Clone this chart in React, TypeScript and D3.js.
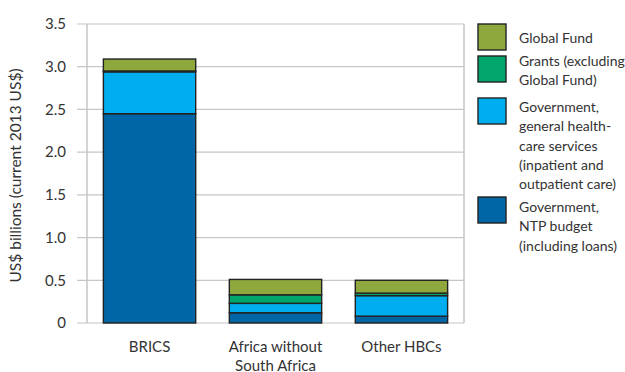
import React from "react";
import * as d3 from "d3";

const categories = ["BRICS", "Africa without\nSouth Africa", "Other HBCs"];
const seriesNames = ["ntp", "general", "grants", "globalFund"];
const ntpBudget = [2.45, 0.12, 0.08];
const generalHealth = [0.49, 0.11, 0.24];
const grants = [0.01, 0.1, 0.03];
const globalFund = [0.14, 0.18, 0.15];
const yTicks = [0, 0.5, 1.0, 1.5, 2.0, 2.5, 3.0, 3.5];
const colors = ["#0066a6", "#00adef", "#00a66b", "#8fa83e"];
const legendItems = [
  { color: "#8fa83e", lines: ["Global Fund"] },
  { color: "#00a66b", lines: ["Grants (excluding", "Global Fund)"] },
  { color: "#00adef", lines: ["Government,", "general health-", "care services", "(inpatient and", "outpatient care)"] },
  { color: "#0066a6", lines: ["Government,", "NTP budget", "(including loans)"] },
];

const FONT = "Lato, 'Open Sans', sans-serif";

export default function App() {
  const left = 87, right = 464, top = 24, bottom = 323;
  const x = d3.scaleBand().domain(categories).range([left, right]).paddingInner(0.267).paddingOuter(0.13);
  const y = d3.scaleLinear().domain([0, 3.5]).range([bottom, top]);
  const table = categories.map((c, i) => ({
    cat: c,
    ntp: ntpBudget[i],
    general: generalHealth[i],
    grants: grants[i],
    globalFund: globalFund[i],
  }));
  const stacked = d3.stack<any>().keys(seriesNames)(table);
  const legendY = [24, 56, 98, 197];
  const legendTextY = [38, 61, 107, 207];
  return (
    <svg width={625} height={372} style={{ display: "block", position: "absolute", left: 0, top: 0 }}>
      <rect width={625} height={372} fill="#fff" />
      {yTicks.map((t) => (
        <g key={t}>
          <line x1={77} x2={right} y1={y(t)} y2={y(t)} stroke="#c6c6c6" strokeWidth={1.2} />
          <text x={66} y={y(t)} dy="0.35em" textAnchor="end" fontFamily={FONT} fontSize={15} fill="#333">
            {t === 0 ? "0" : t.toFixed(1)}
          </text>
        </g>
      ))}
      <line x1={left} x2={left} y1={top} y2={bottom} stroke="#c6c6c6" strokeWidth={1.5} />
      <line x1={right} x2={right} y1={top} y2={bottom} stroke="#c6c6c6" strokeWidth={1.5} />
      {stacked.map((s, si) =>
        s.map((d, i) => (
          <rect
            key={si + "-" + i}
            x={x(categories[i])!}
            width={x.bandwidth()}
            y={y(d[1])}
            height={y(d[0]) - y(d[1])}
            fill={colors[si]}
            stroke="#222"
            strokeWidth={1.4}
          />
        ))
      )}
      {categories.map((c) =>
        c.split("\n").map((line, li) => (
          <text
            key={c + li}
            x={x(c)! + x.bandwidth() / 2}
            y={352 + li * 19}
            textAnchor="middle"
            fontFamily={FONT}
            fontSize={15}
            fill="#333"
          >
            {line}
          </text>
        ))
      )}
      <text
        transform={`translate(21,${(top + bottom) / 2 + 2}) rotate(-90)`}
        textAnchor="middle"
        fontFamily={FONT}
        fontSize={15.5}
        fill="#333"
      >
        US$ billions (current 2013 US$)
      </text>
      {legendItems.map((item, k) => (
        <g key={k}>
          <rect x={478} y={legendY[k]} width={28} height={26} fill={item.color} stroke="#222" strokeWidth={1.4} />
          {item.lines.map((l, li) => (
            <text
              key={li}
              x={519}
              y={legendTextY[k] + li * 19.3}
              dy="0.35em"
              fontFamily={FONT}
              fontSize={14}
              fill="#333"
            >
              {l}
            </text>
          ))}
        </g>
      ))}
    </svg>
  );
}
